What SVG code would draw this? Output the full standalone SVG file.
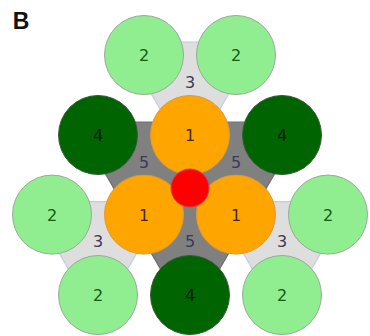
<svg xmlns="http://www.w3.org/2000/svg" width="370" height="336" viewBox="0 0 370 336">
<style>
.lt{fill:#dedede;stroke:#c4cce4;stroke-width:1.2}
.dk{fill:#808080;stroke:#6e6e78;stroke-width:1.2}
.c2{fill:#90ee90;stroke:#9aa89a;stroke-width:1}
.c4{fill:#006400;stroke:#3a5a3a;stroke-width:1}
.c1{fill:#ffa500;stroke:#d89a40;stroke-width:1}
.c0{fill:#ff0000;stroke:#d04040;stroke-width:1}
text{font-family:"DejaVu Sans","Liberation Sans",sans-serif;font-size:16px;text-anchor:middle}
.t2{fill:#145a14}
.t4{fill:#0a1a0a}
.t1{fill:#4a2a00}
.tg{fill:#3a3a58}
</style>
<rect width="370" height="336" fill="#ffffff"/>
<text x="21" y="29" style="font-family:'Liberation Sans',Arial,sans-serif;font-size:23px;font-weight:bold;fill:#111">B</text>
<g id="connectors">
<polygon class="lt" points="190,160.9 121.5,42.2 258.5,42.2"/>
<polygon class="lt" points="166.5,201.6 29.5,201.6 98,320.3"/>
<polygon class="lt" points="213.5,201.6 350.5,201.6 282,320.3"/>
<polygon class="dk" points="212.5,122 144,240.6 75.5,122"/>
<polygon class="dk" points="167.5,122 236,240.6 304.5,122"/>
<polygon class="dk" points="121.5,201.6 258.5,201.6 190,320.3"/>
<text class="tg" x="190" y="88">3</text>
<text class="tg" x="98" y="247">3</text>
<text class="tg" x="282" y="247">3</text>
<text class="tg" x="144" y="168">5</text>
<text class="tg" x="236" y="168">5</text>
<text class="tg" x="190" y="247">5</text>
</g>
<g id="n2a"><circle class="c2" cx="144" cy="55" r="39.5"/><text class="t2" x="144" y="61">2</text></g>
<g id="n2b"><circle class="c2" cx="236" cy="55" r="39.5"/><text class="t2" x="236" y="61">2</text></g>
<g id="n2c"><circle class="c2" cx="52" cy="214.6" r="39.5"/><text class="t2" x="52" y="220.6">2</text></g>
<g id="n2d"><circle class="c2" cx="328" cy="214.6" r="39.5"/><text class="t2" x="328" y="220.6">2</text></g>
<g id="n2e"><circle class="c2" cx="98" cy="295" r="39.5"/><text class="t2" x="98" y="301">2</text></g>
<g id="n2f"><circle class="c2" cx="282" cy="295" r="39.5"/><text class="t2" x="282" y="301">2</text></g>
<g id="n4a"><circle class="c4" cx="98" cy="135" r="39.5"/><text class="t4" x="98" y="141">4</text></g>
<g id="n4b"><circle class="c4" cx="282" cy="135" r="39.5"/><text class="t4" x="282" y="141">4</text></g>
<g id="n4c"><circle class="c4" cx="190" cy="295" r="39.5"/><text class="t4" x="190" y="301">4</text></g>
<g id="n1a"><circle class="c1" cx="190" cy="135" r="39.5"/><text class="t1" x="190" y="141">1</text></g>
<g id="n1b"><circle class="c1" cx="144" cy="214.6" r="39.5"/><text class="t1" x="144" y="220.6">1</text></g>
<g id="n1c"><circle class="c1" cx="236" cy="214.6" r="39.5"/><text class="t1" x="236" y="220.6">1</text></g>
<g id="n0"><circle class="c0" cx="190" cy="188" r="19"/></g>
</svg>
